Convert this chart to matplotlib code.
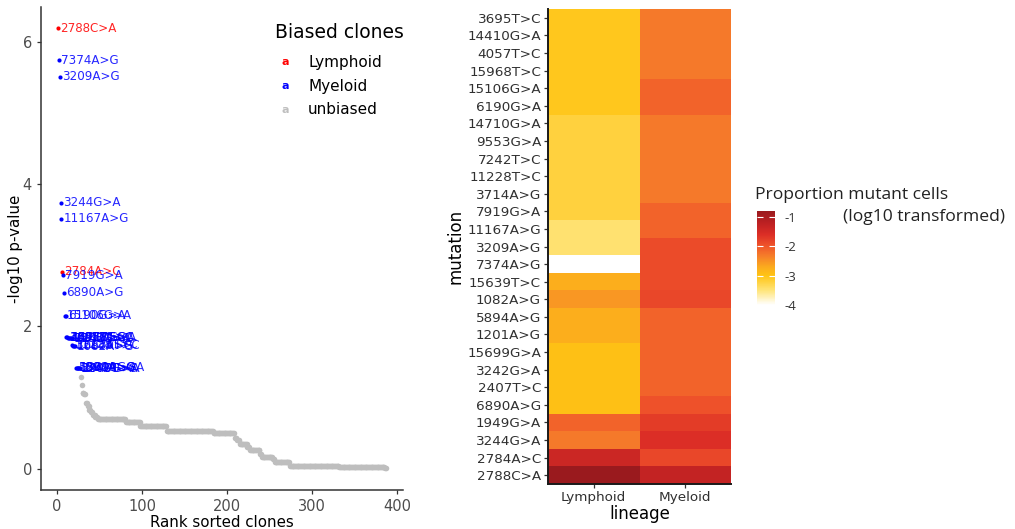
import numpy as np
import matplotlib
matplotlib.use("Agg")
from matplotlib import pyplot as plt
from matplotlib.colors import LinearSegmentedColormap, Normalize

plt.rcParams["axes.unicode_minus"] = False

# ---- left panel: clones ranked by -log10 p-value ----
biased_rank = list(range(1, 28))
biased_pval = [6.19, 5.74, 5.51, 3.74, 3.51, 2.77, 2.72, 2.47, 2.15, 2.15,
               1.85, 1.85, 1.84, 1.84, 1.84, 1.83, 1.83,
               1.74, 1.73, 1.73, 1.72,
               1.42, 1.42, 1.42, 1.41, 1.41, 1.41]
biased_label = ["2788C>A", "7374A>G", "3209A>G", "3244G>A", "11167A>G",
                "2784A>C", "7919G>A", "6890A>G", "15106G>A", "6190G>A",
                "3695T>C", "14410G>A", "4057T>C", "15968T>C", "14710G>A",
                "9553G>A", "7242T>C",
                "11228T>C", "3714A>G", "15639T>C", "1082A>G",
                "5894A>G", "1201A>G", "15699G>A", "3242G>A", "2407T>C", "1949G>A"]
biased_group = ["Lymphoid", "Myeloid", "Myeloid", "Myeloid", "Myeloid",
                "Lymphoid"] + ["Myeloid"] * 21

# unbiased clones, stored as (value, run length) steps from rank 28 on
unbiased_value = [1.29, 1.17, 1.07, 1.05, 0.93, 0.88, 0.83, 0.79, 0.76, 0.72,
                  0.70, 0.66, 0.60, 0.53, 0.50, 0.43, 0.40, 0.34, 0.30, 0.26,
                  0.21, 0.17, 0.13, 0.10, 0.04, 0.03, 0.01]
unbiased_count = [1, 1, 2, 2, 2, 2, 2, 2, 3, 3,
                  33, 17, 31, 55, 25, 3, 3, 9, 3, 12,
                  2, 13, 2, 18, 58, 54, 2]

group_colors = {"Lymphoid": "red", "Myeloid": "blue", "unbiased": "#BEBEBE"}

# ---- right panel: proportion of mutant cells (log10) ----
mutations = ["3695T>C", "14410G>A", "4057T>C", "15968T>C", "15106G>A", "6190G>A",
             "14710G>A", "9553G>A", "7242T>C", "11228T>C", "3714A>G", "7919G>A",
             "11167A>G", "3209A>G", "7374A>G", "15639T>C", "1082A>G", "5894A>G",
             "1201A>G", "15699G>A", "3242G>A", "2407T>C", "6890A>G", "1949G>A",
             "3244G>A", "2784A>C", "2788C>A"]
lineages = ["Lymphoid", "Myeloid"]
lymphoid_log10 = [-3.05, -3.05, -3.05, -3.05, -3.05, -3.05,
                  -3.2, -3.2, -3.2, -3.2, -3.2, -3.2,
                  -3.45, -3.45, -4.0, -2.75, -2.55, -2.75,
                  -2.75, -2.95, -2.95, -2.95, -2.95, -2.1,
                  -2.3, -1.4, -0.8]
myeloid_log10 = [-2.3, -2.3, -2.3, -2.3, -2.1, -2.1,
                 -2.3, -2.3, -2.3, -2.3, -2.3, -2.1,
                 -2.1, -1.9, -1.9, -1.9, -1.85, -2.1,
                 -2.1, -2.1, -2.1, -2.1, -1.95, -1.75,
                 -1.6, -1.85, -1.3]

W, H = 1015, 529


def box(l, t, r, b):
    return [l / W, 1 - b / H, (r - l) / W, (b - t) / H]


fig = plt.figure(figsize=(W / 100, H / 100), dpi=100)

# scatter of ranked clones
ax1 = fig.add_axes(box(41, 7, 403, 490))
n_biased = len(biased_rank)
un_y = np.repeat(unbiased_value, unbiased_count)
un_x = np.arange(n_biased + 1, n_biased + 1 + len(un_y))
ax1.scatter(un_x, un_y, s=16, color=group_colors["unbiased"], linewidths=0, zorder=2)
for x, y, lab, grp in zip(biased_rank, biased_pval, biased_label, biased_group):
    c = group_colors[grp]
    ax1.scatter(x, y, s=9, color=c, linewidths=0, zorder=3)
    ax1.annotate(lab, (x, y), xytext=(1.5, 0), textcoords="offset points",
                 ha="left", va="center", color=c, fontsize=8.6, alpha=0.85, zorder=4)

ax1.set_xlim(-19, 407)
ax1.set_ylim(-0.3, 6.49)
ax1.set_xticks([0, 100, 200, 300, 400])
ax1.set_yticks([0, 2, 4, 6])
for s in ["top", "right"]:
    ax1.spines[s].set_visible(False)
for s in ["left", "bottom"]:
    ax1.spines[s].set_color("#333333")
    ax1.spines[s].set_linewidth(1.1)
ax1.tick_params(length=3, width=0.9, color="#333333", labelcolor="#4D4D4D", labelsize=10.5)
ax1.set_xlabel("Rank sorted clones", fontsize=10.8, labelpad=1)
ax1.set_ylabel("-log10 p-value", fontsize=10.8, labelpad=0)

# legend drawn as text keys
fig.text(275 / W, 1 - 32 / H, "Biased clones", fontsize=13.5, ha="left", va="center")
for i, grp in enumerate(["Lymphoid", "Myeloid", "unbiased"]):
    yy = 1 - (62 + 24 * i) / H
    fig.text(285 / W, yy, "a", color=group_colors[grp], fontsize=8, fontweight="bold",
             ha="center", va="center")
    fig.text(308 / W, yy, grp, fontsize=11, ha="left", va="center")

# heatmap
cmap = LinearSegmentedColormap.from_list(
    "prop",
    [(0.0, "#FFFFFF"), (0.5 / 3.2, "#FFE478"), (1.0 / 3.2, "#FFC414"),
     (1.3 / 3.2, "#FBAA1E"), (1.7 / 3.2, "#F57A2A"), (2.0 / 3.2, "#F0562A"),
     (2.4 / 3.2, "#DC2E26"), (2.8 / 3.2, "#BC2022"), (1.0, "#9A1A1E")])
norm = Normalize(vmin=-4.0, vmax=-0.8)

ax2 = fig.add_axes(box(548, 9, 731, 484))
grid = np.column_stack([lymphoid_log10, myeloid_log10])
ax2.pcolormesh(np.arange(len(lineages) + 1), np.arange(len(mutations) + 1), grid,
               cmap=cmap, norm=norm)
ax2.set_ylim(len(mutations), 0)
ax2.set_xlim(0, len(lineages))
ax2.set_yticks(np.arange(len(mutations)) + 0.5)
ax2.set_yticklabels(mutations)
ax2.set_xticks(np.arange(len(lineages)) + 0.5)
ax2.set_xticklabels(lineages)
for s in ["top", "right"]:
    ax2.spines[s].set_visible(False)
for s in ["left", "bottom"]:
    ax2.spines[s].set_color("#1A1A1A")
    ax2.spines[s].set_linewidth(1.4)
ax2.tick_params(length=3, width=0.9, color="#333333", labelcolor="#303030", labelsize=9.7, pad=2)
ax2.set_xlabel("lineage", fontsize=12, labelpad=1)
ax2.set_ylabel("mutation", fontsize=12, labelpad=2)

# colour bar
cax = fig.add_axes(box(757, 211, 775, 305))
sm = plt.cm.ScalarMappable(norm=norm, cmap=cmap)
cb = fig.colorbar(sm, cax=cax, ticks=[-1, -2, -3, -4])
cb.outline.set_visible(False)
cax.tick_params(axis="y", direction="in", length=4, width=0.8, color="white",
                left=True, right=True, labelsize=9.5, labelcolor="#333333", pad=7)
for t in cax.get_yticklabels():
    t.set_fontfamily("Open Sans")
fig.text(755 / W, 1 - 195 / H, "Proportion mutant cells", fontsize=12.6,
         family="Open Sans", ha="left", va="center", color="#222222")
fig.text(843 / W, 1 - 217 / H, "(log10 transformed)", fontsize=12.6,
         family="Open Sans", ha="left", va="center", color="#222222")

fig.savefig("out.png", dpi=100)
